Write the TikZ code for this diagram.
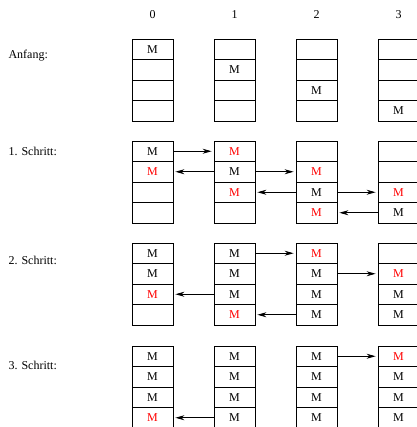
\documentclass[tikz,border=0pt]{standalone}
\usepackage{fontspec}
\setmainfont{Liberation Serif}
\usetikzlibrary{arrows.meta}

% cell contents: empty, black M, red M
\newcommand\txtme{}
\newcommand\txtmk{M}
\newcommand\txtmr{\textcolor{red}{M}}

\tikzset{
  cell/.style={draw,line width=0.8pt,minimum width=41pt,minimum height=20.5pt,inner sep=0pt},
  arr/.style={line width=0.8pt,-{Stealth[length=9pt,width=5pt]},shorten >=2pt},
}

\begin{document}
\begin{tikzpicture}[x=1pt,y=-1pt,font=\fontsize{12}{14}\selectfont]
  \useasboundingbox (0,0) rectangle (416,427);
  % column numbers
  \foreach \c in {0,...,3}
    \node (col\c) at ({152.5+82*\c},15) {\c};
  % row labels
  \node[anchor=west] (lab0) at (5,56) {Anfang:};
  \node[anchor=west] (lab1) at (5,151) {1. Schritt:};
  \node[anchor=west] (lab2) at (5,260) {2. Schritt:};
  \node[anchor=west] (lab3) at (5,365) {3. Schritt:};
  % memory cells: group/column/top/four cells
  \foreach \g/\c/\top/\a/\b/\d/\e in {
      0/0/39/mk/me/me/me, 0/1/39/me/mk/me/me, 0/2/39/me/me/mk/me, 0/3/39/me/me/me/mk,
      1/0/141/mk/mr/me/me, 1/1/141/mr/mk/mr/me, 1/2/141/me/mr/mk/mr, 1/3/141/me/me/mr/mk,
      2/0/243/mk/mk/mr/me, 2/1/243/mk/mk/mk/mr, 2/2/243/mr/mk/mk/mk, 2/3/243/me/mr/mk/mk,
      3/0/346/mk/mk/mk/mr, 3/1/346/mk/mk/mk/mk, 3/2/346/mk/mk/mk/mk, 3/3/346/mr/mk/mk/mk}
    \foreach \v [count=\r from 0] in {\a,\b,\d,\e}
      \node[cell] (g\g c\c r\r) at ({152.5+82*\c},{\top+10.25+20.5*\r}) {\csname txt\v\endcsname};
  % copy steps
  \foreach \g/\s/\t/\r in {
      1/0/1/0, 1/1/0/1, 1/1/2/1, 1/2/1/2, 1/2/3/2, 1/3/2/3,
      2/1/2/0, 2/2/3/1, 2/1/0/2, 2/2/1/3,
      3/2/3/0, 3/1/0/3}
    \draw[arr] (g\g c\s r\r) -- (g\g c\t r\r);
\end{tikzpicture}
\end{document}
